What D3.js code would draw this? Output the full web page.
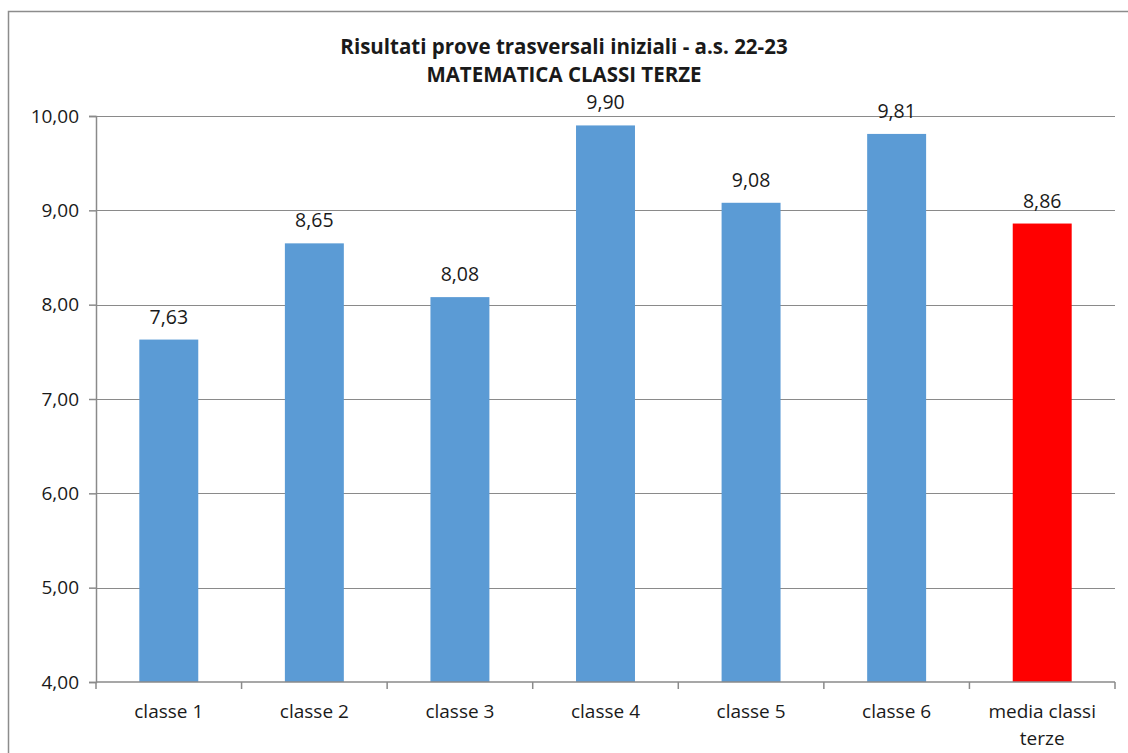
<!DOCTYPE html>
<html>
<head>
<meta charset="utf-8">
<script src="https://cdn.jsdelivr.net/npm/d3@7"></script>
<style>
  html, body { margin: 0; padding: 0; background: #fff; }
  svg { display: block; font-family: "Open Sans", sans-serif; }
</style>
</head>
<body>
<svg id="svg" width="1128" height="753"></svg>
<script>
var categories = ['classe 1', 'classe 2', 'classe 3', 'classe 4', 'classe 5', 'classe 6', 'media classi terze'];
var values = [7.63, 8.65, 8.08, 9.90, 9.08, 9.81, 8.86];
var yTicks = [4, 5, 6, 7, 8, 9, 10];
var titleLines = ['Risultati prove trasversali iniziali - a.s. 22-23', 'MATEMATICA CLASSI TERZE'];

var svg = d3.select('#svg');
var margin = { top: 116, right: 13, bottom: 71, left: 96 };
var width = 1128, height = 753;
var innerW = width - margin.left - margin.right;
var innerH = height - margin.top - margin.bottom;

// outer chart border
svg.append('rect')
   .attr('x', 8.5).attr('y', 11.5)
   .attr('width', 1130).attr('height', 760)
   .attr('fill', 'none').attr('stroke', '#8c8c8c').attr('stroke-width', 1.5);

// title
svg.append('text')
   .attr('x', 564).attr('y', 54)
   .attr('text-anchor', 'middle')
   .style('font-weight', 'bold').style('font-size', '20.5px').style('fill', '#1a1a1a')
   .selectAll('tspan')
   .data(titleLines)
   .enter()
   .append('tspan')
   .attr('x', 564)
   .attr('dy', function(d, i) { return i === 0 ? 0 : 28; })
   .text(function(d) { return d; });

var g = svg.append('g').attr('transform', 'translate(' + margin.left + ',' + margin.top + ')');

var x = d3.scaleBand().domain(categories).range([0, innerW]).paddingInner(0.595).paddingOuter(0.2975);
var y = d3.scaleLinear().domain([4, 10]).range([innerH, 0]);
var fmt = function(v) { return d3.format('.2f')(v).replace('.', ','); };

// gridlines
g.selectAll('.grid')
 .data(yTicks.slice(1))
 .enter()
 .append('line')
 .attr('x1', 0).attr('x2', innerW)
 .attr('y1', function(d) { return Math.round(y(d)) + 0.5; })
 .attr('y2', function(d) { return Math.round(y(d)) + 0.5; })
 .attr('stroke', '#8a8a8a').attr('stroke-width', 1.2);

// bars
g.selectAll('.bar')
 .data(values)
 .enter()
 .append('rect')
 .attr('x', function(d, i) { return x(categories[i]); })
 .attr('y', function(d) { return y(d); })
 .attr('width', x.bandwidth())
 .attr('height', function(d) { return innerH - y(d); })
 .style('fill', function(d, i) { return i === categories.length - 1 ? '#ff0000' : '#5b9bd5'; });

// value labels
g.selectAll('.val')
 .data(values)
 .enter()
 .append('text')
 .attr('x', function(d, i) { return x(categories[i]) + x.bandwidth() / 2; })
 .attr('y', function(d) { return y(d) - 16; })
 .attr('text-anchor', 'middle')
 .style('font-size', '19.5px').style('fill', '#1a1a1a')
 .text(fmt);

// y axis
var yAxis = g.append('g')
 .call(d3.axisLeft(y).tickValues(yTicks).tickSize(7).tickPadding(10).tickFormat(fmt));
yAxis.select('.domain').attr('stroke', '#8a8a8a').attr('stroke-width', 1.5);
yAxis.selectAll('.tick line').attr('stroke', '#8a8a8a').attr('stroke-width', 1.5);
yAxis.selectAll('text').style('font-size', '19px').style('fill', '#1a1a1a').style('font-family', '"Open Sans", sans-serif');

// x axis
var step = x.step();
var xAxis = g.append('g').attr('transform', 'translate(0,' + innerH + ')');
xAxis.append('line')
 .attr('x1', 0).attr('x2', innerW)
 .attr('stroke', '#8a8a8a').attr('stroke-width', 1.5);
xAxis.selectAll('.xtick')
 .data(d3.range(categories.length + 1))
 .enter()
 .append('line')
 .attr('x1', function(d) { return d * step; })
 .attr('x2', function(d) { return d * step; })
 .attr('y1', 0).attr('y2', 7)
 .attr('stroke', '#8a8a8a').attr('stroke-width', 1.5);

// category labels (wrap the last one)
var labelLines = [['classe 1'], ['classe 2'], ['classe 3'], ['classe 4'], ['classe 5'], ['classe 6'], ['media classi', 'terze']];
xAxis.selectAll('.xlab')
 .data(categories)
 .enter()
 .append('text')
 .attr('text-anchor', 'middle')
 .attr('y', 36)
 .style('font-size', '19px').style('fill', '#1a1a1a')
 .each(function(d, i) {
    var t = d3.select(this);
    labelLines[i].forEach(function(line, j) {
        t.append('tspan')
         .attr('x', x(d) + x.bandwidth() / 2)
         .attr('dy', j === 0 ? 0 : 27)
         .text(line);
    });
 });
</script>
</body>
</html>
